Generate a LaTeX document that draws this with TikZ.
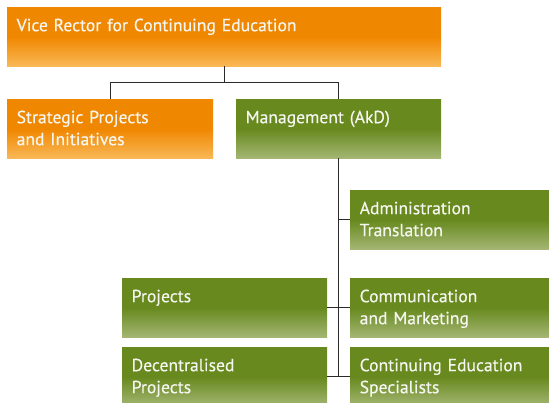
\documentclass[tikz,border=0pt]{standalone}
\usepackage{fontspec}
\setmainfont[FakeBold=0.4]{PT Sans}
\definecolor{orangetop}{HTML}{F08700}
\definecolor{orangebot}{HTML}{F9B856}
\definecolor{greentop}{HTML}{67891E}
\definecolor{greenbot}{HTML}{A4B673}
\definecolor{unittext}{HTML}{F6F6F0}
\definecolor{linkgray}{HTML}{2A2A2A}

\begin{document}
\begin{tikzpicture}[x=1pt, y=1pt]
  \tikzset{
    unit/.style={anchor=north west, inner xsep=9.5pt, inner ysep=0pt,
                 text height=24pt, text depth=35pt, align=left,
                 text=unittext, font=\fontsize{17.6}{22}\selectfont},
    rector/.style={unit, bottom color=orangebot, top color=orangetop, middle color=orangetop},
    office/.style={unit, bottom color=greenbot, top color=greentop, middle color=greentop},
    link/.style={draw=linkgray, line width=0.9pt}
  }
  \useasboundingbox (0,0) rectangle (549,-403);

  \node[rector, text width=415pt] (vr)    at (7,-7)     {Vice Rector for Continuing Education};
  \node[rector, text width=187pt] (spi)   at (7,-99)    {Strategic Projects\\and Initiatives};
  \node[office, text width=186pt] (mgmt)  at (236,-99)  {Management (AkD)};
  \node[office, text width=180pt] (admin) at (350,-190) {Administration\\Translation};
  \node[office, text width=186pt] (proj)  at (122,-278) {Projects};
  \node[office, text width=180pt] (comm)  at (350,-278) {Communication\\and Marketing};
  \node[office, text width=186pt] (dproj) at (122,-347) {Decentralised\\Projects};
  \node[office, text width=180pt] (ces)   at (350,-347) {Continuing Education\\Specialists};

  \coordinate (split) at ([yshift=-16pt]vr.south);
  \draw[link] (vr.south) -- (split);
  \draw[link] (spi.north) |- (split) -| (mgmt.north);
  \draw[link] (mgmt.south) -- (mgmt.south |- ces.west);
  \draw[link] (mgmt.south |- admin.west) -- (admin.west);
  \draw[link] (proj.east) -- (comm.west);
  \draw[link] (dproj.east) -- (ces.west);
\end{tikzpicture}
\end{document}
